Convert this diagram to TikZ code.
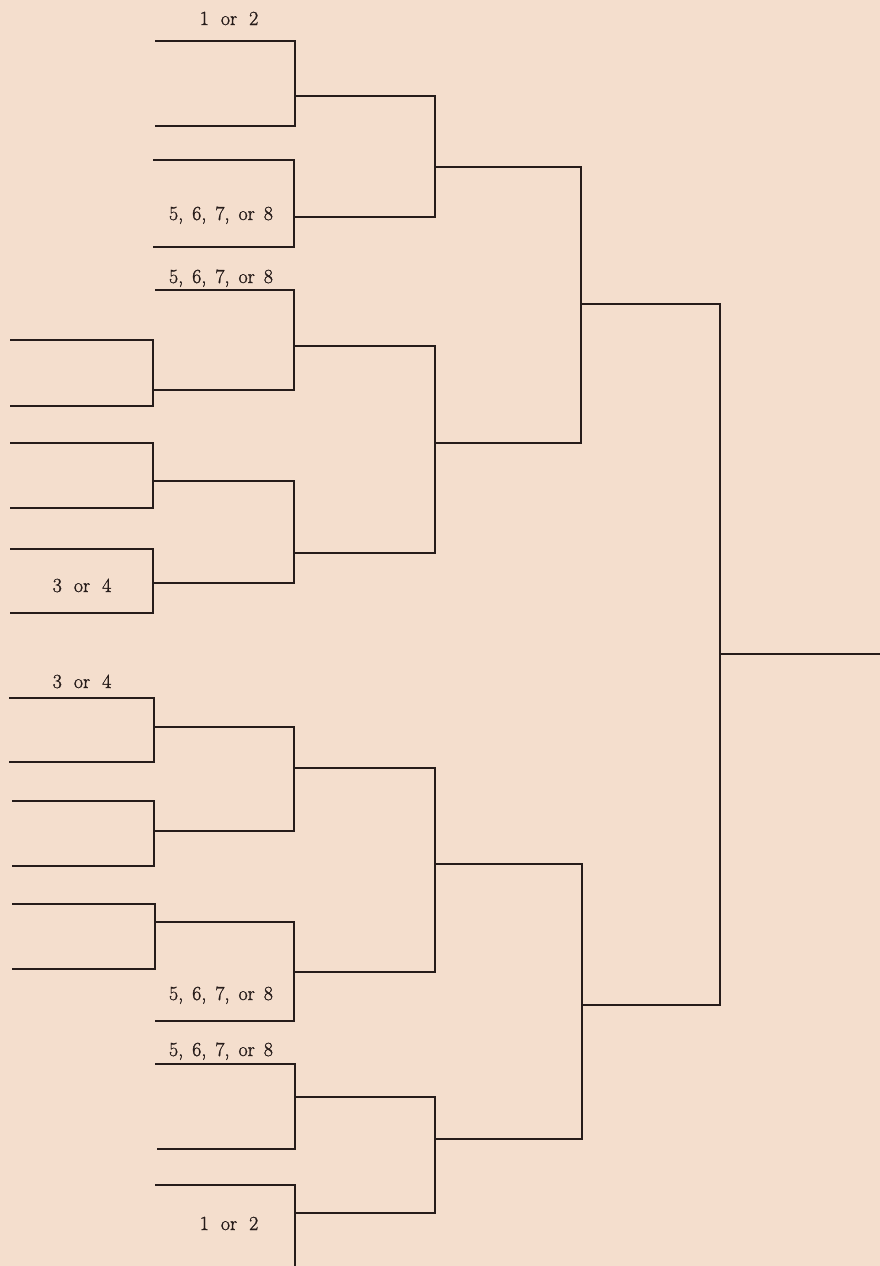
\documentclass[tikz,border=0pt]{standalone}
\usepackage{fontspec}
\newfontfamily\labfont{Latin Modern Roman}[FakeBold=1.2]
\definecolor{paper}{RGB}{244,222,205}
\definecolor{ink}{RGB}{38,28,26}
\newcommand{\ws}[1]{\hspace{#1}}
\begin{document}
\begin{tikzpicture}[x=1pt,y=-1pt,
  br/.style={draw=ink,line width=1.8pt,line join=miter,line cap=butt},
  lab/.style={anchor=base,inner sep=0pt,text=ink,font=\labfont\fontsize{20}{24}\selectfont}]
\fill[paper] (0,0) rectangle (880,1266);
\useasboundingbox (0,0) rectangle (880,1266);
% ---- round 1 (left column)
\draw[br] (10,340) -- (153,340) -- (153,406) -- (10,406);
\draw[br] (10,443) -- (153,443) -- (153,508) -- (10,508);
\draw[br] (10,549) -- (153,549) -- (153,613) -- (10,613);
\draw[br] (9,698) -- (154,698) -- (154,762) -- (9,762);
\draw[br] (12,801) -- (154,801) -- (154,866) -- (12,866);
\draw[br] (12,904) -- (155,904) -- (155,969) -- (12,969);
% ---- round 2
\draw[br] (155,41) -- (295,41) -- (295,126) -- (155,126);
\draw[br] (153,160) -- (294,160) -- (294,247) -- (153,247);
\draw[br] (155,290) -- (294,290) -- (294,390) -- (153,390);
\draw[br] (153,481) -- (294,481) -- (294,583) -- (153,583);
\draw[br] (154,727) -- (294,727) -- (294,831) -- (154,831);
\draw[br] (155,922) -- (294,922) -- (294,1021) -- (155,1021);
\draw[br] (155,1064) -- (295,1064) -- (295,1149) -- (157,1149);
\draw[br] (155,1185) -- (295,1185) -- (295,1267);
% ---- round 3
\draw[br] (295,96) -- (435,96) -- (435,217) -- (294,217);
\draw[br] (294,346) -- (435,346) -- (435,553) -- (294,553);
\draw[br] (294,768) -- (435,768) -- (435,972) -- (294,972);
\draw[br] (295,1097) -- (435,1097) -- (435,1213) -- (295,1213);
% ---- round 4
\draw[br] (435,167) -- (581,167) -- (581,443) -- (435,443);
\draw[br] (435,864) -- (582,864) -- (582,1139) -- (435,1139);
% ---- final
\draw[br] (581,304) -- (720,304) -- (720,1005) -- (582,1005);
\draw[br] (720,654) -- (881,654);
% ---- labels
\node[lab] (l1) at (229,25) {1\ws{0.6em}or\ws{0.6em}2};
\node[lab] (l2) at (221,220) {5,\ws{0.45em}6,\ws{0.45em}7,\ws{0.45em}or\ws{0.45em}8};
\node[lab] (l3) at (221,283) {5,\ws{0.45em}6,\ws{0.45em}7,\ws{0.45em}or\ws{0.45em}8};
\node[lab] (l4) at (82,592) {3\ws{0.6em}or\ws{0.6em}4};
\node[lab] (l5) at (82,688) {3\ws{0.6em}or\ws{0.6em}4};
\node[lab] (l6) at (221,1000) {5,\ws{0.45em}6,\ws{0.45em}7,\ws{0.45em}or\ws{0.45em}8};
\node[lab] (l7) at (221,1056) {5,\ws{0.45em}6,\ws{0.45em}7,\ws{0.45em}or\ws{0.45em}8};
\node[lab] (l8) at (229,1230) {1\ws{0.6em}or\ws{0.6em}2};
\end{tikzpicture}
\end{document}
